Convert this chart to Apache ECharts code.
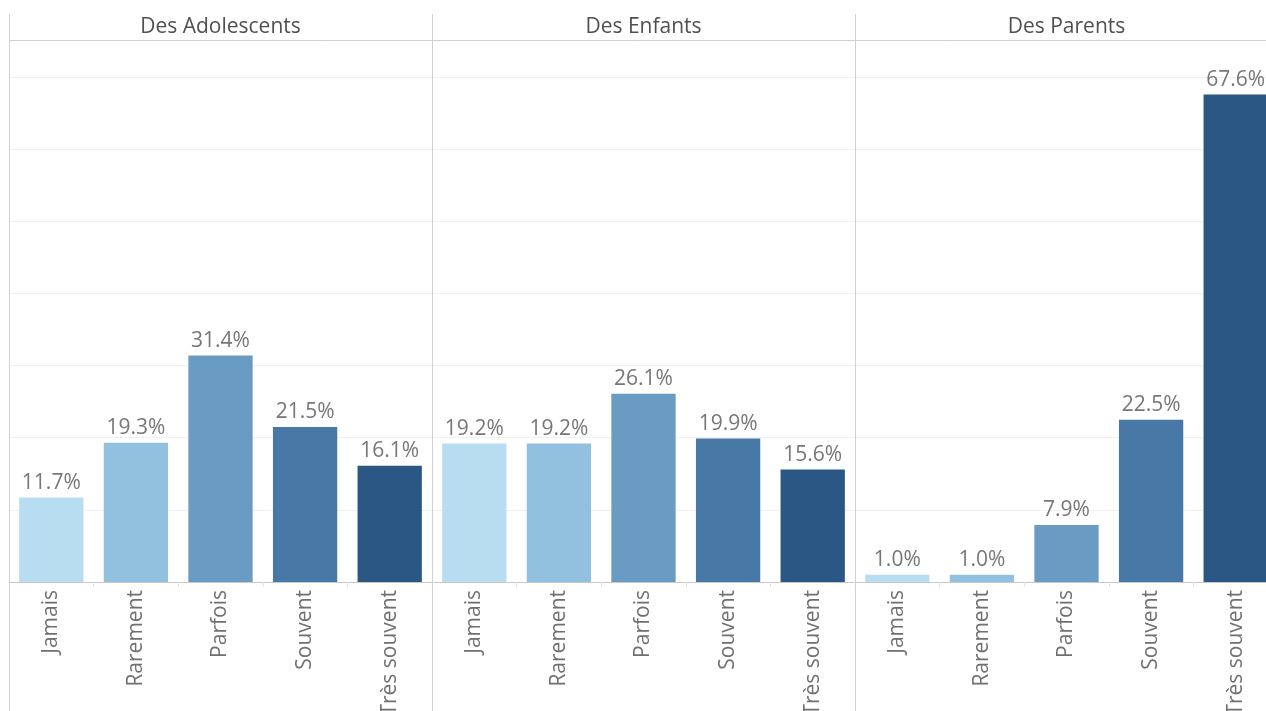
<!DOCTYPE html>
<html>
<head>
<meta charset="utf-8">
<script src="https://cdn.jsdelivr.net/npm/echarts@6/dist/echarts.min.js"></script>
<style>html,body{margin:0;padding:0;background:#fff;}#c{width:1266px;height:711px;}</style>
</head>
<body>
<div id="c"></div>
<script>
const categories = ['Jamais', 'Rarement', 'Parfois', 'Souvent', 'Très souvent'];
const panels = ['Des Adolescents', 'Des Enfants', 'Des Parents'];
const adolescents = [11.7, 19.3, 31.4, 21.5, 16.1];
const enfants = [19.2, 19.2, 26.1, 19.9, 15.6];
const parents = [1.0, 1.0, 7.9, 22.5, 67.6];
const panelValues = [adolescents, enfants, parents];
const palette = ['#b9ddf0', '#92c0df', '#6a9bc3', '#4878a6', '#2a5783'];
const yMin = 0, yMax = 75, yInterval = 10;

const chart = echarts.init(document.getElementById('c'), null, {renderer: 'canvas'});
const panelLeft = 9, panelW = 423, gridTop = 41, gridH = 541;
const font = "'Open Sans', 'Noto Sans', sans-serif";

const grids = [], xAxes = [], yAxes = [], series = [], titles = [], graphics = [];
panels.forEach((name, i) => {
  const left = panelLeft + panelW * i;
  grids.push({left: left, top: gridTop, width: panelW, height: gridH, containLabel: false, outerBoundsMode: 'none'});
  xAxes.push({
    type: 'category', gridIndex: i, data: categories,
    axisLine: {lineStyle: {color: '#c8c8c8', width: 1}},
    axisTick: {show: true, length: 5, lineStyle: {color: '#e4e4e4'}},
    axisLabel: {rotate: 90, fontSize: 21, color: '#707070', margin: 8, fontFamily: font, interval: 0}
  });
  yAxes.push({
    type: 'value', gridIndex: i, min: yMin, max: yMax, interval: yInterval,
    axisLabel: {show: false}, axisLine: {show: false}, axisTick: {show: false},
    splitLine: {show: true, showMaxLine: false, lineStyle: {color: '#f0f0f0', width: 1}}
  });
  series.push({
    type: 'bar', xAxisIndex: i, yAxisIndex: i,
    data: panelValues[i].map((v, k) => ({value: v, itemStyle: {color: palette[k]}})),
    barCategoryGap: '24%',
    label: {show: true, position: 'top', distance: 4, fontSize: 21, color: '#777', fontFamily: font,
      formatter: p => p.value.toFixed(1) + '%'}
  });
  titles.push({
    text: name, left: left + panelW / 2, top: 17, textAlign: 'center', padding: 0,
    textStyle: {fontSize: 21, color: '#505050', fontWeight: 500, fontFamily: font}
  });
  graphics.push({type: 'line', shape: {x1: left + 0.5, y1: 14, x2: left + 0.5, y2: 711},
    style: {stroke: '#d0d0d0', lineWidth: 1}, z: 10});
});
graphics.push({type: 'line', shape: {x1: panelLeft, y1: 40.5, x2: 1266, y2: 40.5},
  style: {stroke: '#d0d0d0', lineWidth: 1}, z: 10});

chart.setOption({
  animation: false,
  backgroundColor: '#fff',
  title: titles,
  grid: grids,
  xAxis: xAxes,
  yAxis: yAxes,
  series: series,
  graphic: graphics
});
</script>
</body>
</html>
